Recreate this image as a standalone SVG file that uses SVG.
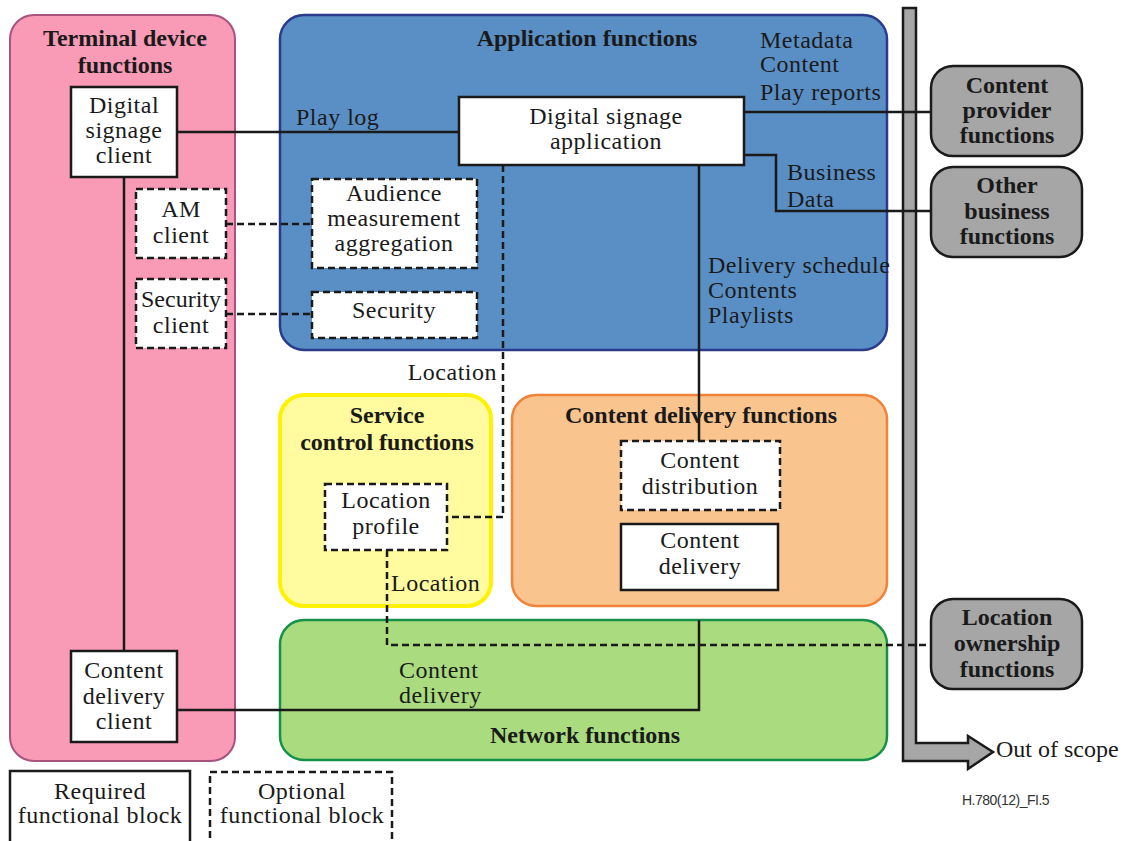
<svg xmlns="http://www.w3.org/2000/svg" width="1132" height="841" viewBox="0 0 1132 841">
  <style>
    text { font-family: "Liberation Serif", "Times New Roman", serif; font-size: 24px; fill: #1a1a1a; }
    .lbl { letter-spacing: 0.5px; }
    .c { text-anchor: middle; }
    .e { text-anchor: end; }
    .b { font-weight: bold; }
    .req { fill: #ffffff; stroke: #1a1a1a; stroke-width: 2.5; }
    .opt { fill: #ffffff; stroke: #1a1a1a; stroke-width: 2.5; stroke-dasharray: 7 4; }
    .ext { fill: #a6a6a6; stroke: #1a1a1a; stroke-width: 2.5; }
    .wire { fill: none; stroke: #1a1a1a; stroke-width: 2.5; }
    .dash { fill: none; stroke: #1a1a1a; stroke-width: 2.5; stroke-dasharray: 7 4; }
    .fid { font-family: "Liberation Sans", Arial, sans-serif; font-size: 14px; letter-spacing: -0.5px; fill: #333333; }
  </style>

  <!-- functional areas -->
  <g id="terminal-device-functions">
    <rect x="10" y="15" width="225" height="746" rx="24" fill="#f99bb6" stroke="#a8527e" stroke-width="2"/>
    <text class="c b" x="125" y="46">Terminal device</text>
    <text class="c b" x="125" y="73">functions</text>
  </g>
  <g id="application-functions">
    <rect x="280" y="15" width="607" height="335" rx="24" fill="#5a8fc6" stroke="#2a3a8c" stroke-width="2.5"/>
    <text class="c b" x="587" y="46">Application functions</text>
  </g>
  <g id="service-control-functions">
    <rect x="280" y="395" width="211" height="211" rx="24" fill="#fffb9e" stroke="#fff200" stroke-width="4"/>
    <text class="c b" x="387" y="423">Service</text>
    <text class="c b" x="387" y="450">control functions</text>
  </g>
  <g id="content-delivery-functions">
    <rect x="512" y="395" width="375" height="211" rx="24" fill="#fac48e" stroke="#f0823a" stroke-width="2.5"/>
    <text class="c b" x="701" y="423">Content delivery functions</text>
  </g>
  <g id="network-functions">
    <rect x="280" y="620" width="607" height="140" rx="24" fill="#aadc7f" stroke="#16904a" stroke-width="2.5"/>
    <text class="c b" x="585" y="743">Network functions</text>
  </g>

  <!-- scope boundary -->
  <g id="out-of-scope">
    <polygon class="ext" points="903,8 916,8 916,743 968,743 968,736 993,752 968,769 968,761 903,761"/>
    <text x="996" y="757">Out of scope</text>
  </g>

  <!-- connectors -->
  <g id="connectors">
    <path class="wire" d="M177,132 H459"/>
    <path class="wire" d="M744,112 H931"/>
    <path class="wire" d="M744,155 H776 V211 H931"/>
    <path class="wire" d="M699,165 V441"/>
    <path class="wire" d="M124,177 V651"/>
    <path class="wire" d="M177,710 H699 V620"/>
    <path class="dash" d="M503,165 V517 H447"/>
    <path class="dash" d="M387,550 V645 H931"/>
    <path class="dash" d="M226,224 H312"/>
    <path class="dash" d="M226,314 H312"/>
    <text class="lbl" x="296" y="125">Play log</text>
    <text class="lbl" x="760" y="48">Metadata</text>
    <text class="lbl" x="760" y="72">Content</text>
    <text class="lbl" x="760" y="100">Play reports</text>
    <text class="lbl" x="787" y="180">Business</text>
    <text class="lbl" x="787" y="207">Data</text>
    <text class="lbl" x="708" y="273">Delivery schedule</text>
    <text class="lbl" x="708" y="298">Contents</text>
    <text class="lbl" x="708" y="323">Playlists</text>
    <text class="lbl e" x="497" y="380">Location</text>
    <text class="lbl" x="391" y="591">Location</text>
    <text class="lbl" x="399" y="678">Content</text>
    <text class="lbl" x="399" y="703">delivery</text>
  </g>

  <!-- terminal blocks -->
  <g id="digital-signage-client">
    <rect class="req" x="71" y="87" width="106" height="90"/>
    <text class="lbl c" x="124" y="113">Digital</text>
    <text class="lbl c" x="124" y="138">signage</text>
    <text class="lbl c" x="124" y="163">client</text>
  </g>
  <g id="am-client">
    <rect class="opt" x="136" y="189" width="90" height="69"/>
    <text class="lbl c" x="181" y="217">AM</text>
    <text class="lbl c" x="181" y="243">client</text>
  </g>
  <g id="security-client">
    <rect class="opt" x="136" y="279" width="90" height="69"/>
    <text class="c" x="181" y="307">Security</text>
    <text class="lbl c" x="181" y="333">client</text>
  </g>
  <g id="content-delivery-client">
    <rect class="req" x="71" y="651" width="106" height="91"/>
    <text class="lbl c" x="124" y="678">Content</text>
    <text class="lbl c" x="124" y="704">delivery</text>
    <text class="lbl c" x="124" y="729">client</text>
  </g>

  <!-- application blocks -->
  <g id="digital-signage-application">
    <rect class="req" x="459" y="97" width="285" height="68"/>
    <text class="lbl c" x="606" y="124">Digital signage</text>
    <text class="lbl c" x="606" y="149">application</text>
  </g>
  <g id="audience-measurement-aggregation">
    <rect class="opt" x="312" y="179" width="165" height="89"/>
    <text class="lbl c" x="394" y="201">Audience</text>
    <text class="lbl c" x="394" y="226">measurement</text>
    <text class="lbl c" x="394" y="251">aggregation</text>
  </g>
  <g id="security">
    <rect class="opt" x="312" y="292" width="165" height="46"/>
    <text class="lbl c" x="394" y="318">Security</text>
  </g>

  <!-- service control / content delivery blocks -->
  <g id="location-profile">
    <rect class="opt" x="325" y="484" width="122" height="66"/>
    <text class="lbl c" x="386" y="508">Location</text>
    <text class="lbl c" x="386" y="534">profile</text>
  </g>
  <g id="content-distribution">
    <rect class="opt" x="621" y="441" width="159" height="69"/>
    <text class="lbl c" x="700" y="468">Content</text>
    <text class="lbl c" x="700" y="494">distribution</text>
  </g>
  <g id="content-delivery">
    <rect class="req" x="621" y="524" width="157" height="66"/>
    <text class="lbl c" x="700" y="548">Content</text>
    <text class="lbl c" x="700" y="574">delivery</text>
  </g>

  <!-- external functions -->
  <g id="content-provider-functions">
    <rect class="ext" x="931" y="66" width="151" height="90" rx="22"/>
    <text class="c b" x="1007" y="93">Content</text>
    <text class="c b" x="1007" y="118">provider</text>
    <text class="c b" x="1007" y="143">functions</text>
  </g>
  <g id="other-business-functions">
    <rect class="ext" x="931" y="167" width="151" height="90" rx="22"/>
    <text class="c b" x="1007" y="193">Other</text>
    <text class="c b" x="1007" y="219">business</text>
    <text class="c b" x="1007" y="244">functions</text>
  </g>
  <g id="location-ownership-functions">
    <rect class="ext" x="931" y="599" width="151" height="90" rx="22"/>
    <text class="c b" x="1007" y="625">Location</text>
    <text class="c b" x="1007" y="651">ownership</text>
    <text class="c b" x="1007" y="677">functions</text>
  </g>

  <!-- legend -->
  <g id="legend-required">
    <rect class="req" x="10" y="771" width="180" height="72"/>
    <text class="lbl c" x="100" y="799">Required</text>
    <text class="lbl c" x="100" y="823">functional block</text>
  </g>
  <g id="legend-optional">
    <rect class="opt" x="210" y="772" width="182" height="71"/>
    <text class="lbl c" x="302" y="799">Optional</text>
    <text class="lbl c" x="302" y="823">functional block</text>
  </g>

  <text class="fid" x="962" y="805">H.780(12)_FI.5</text>
</svg>
